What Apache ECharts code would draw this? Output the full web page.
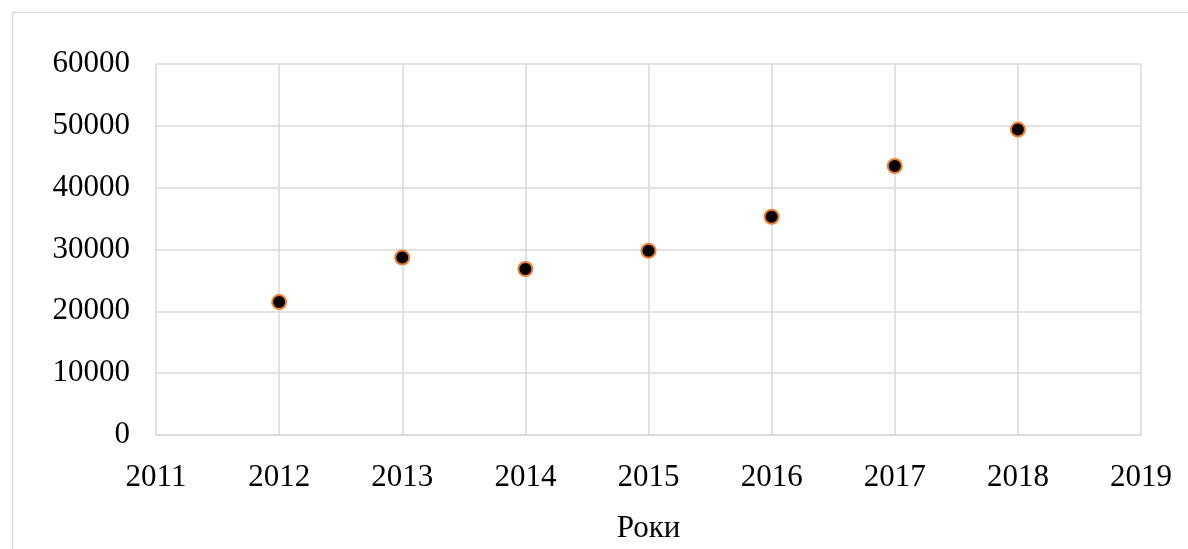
<!DOCTYPE html>
<html>
<head>
<meta charset="utf-8">
<style>
  html, body { margin: 0; padding: 0; background: #ffffff; }
  #chart { width: 1188px; height: 549px; }
</style>
<script src="https://cdn.jsdelivr.net/npm/echarts@6/dist/echarts.min.js"></script>
</head>
<body>
<div id="chart"></div>
<script>
// Years and yearly values
const years = [2012, 2013, 2014, 2015, 2016, 2017, 2018];
const values = [21500, 28700, 26850, 29800, 35300, 43500, 49400];

// Axis ranges
const xMin = 2011, xMax = 2019, xStep = 1;
const yMin = 0, yMax = 60000, yStep = 10000;
const xAxisTitle = 'Роки';

const points = years.map((y, i) => [y, values[i]]);
const font = '"Liberation Serif", "Times New Roman", serif';
const gridColor = '#d9d9d9';
const plain = v => String(v);

const chart = echarts.init(document.getElementById('chart'));
chart.setOption({
  animation: false,
  backgroundColor: '#ffffff',
  graphic: [{
    type: 'rect',
    left: 10, top: 10,
    shape: { width: 1200, height: 560 },
    style: { fill: 'none', stroke: gridColor, lineWidth: 1.5 },
    silent: true
  }],
  grid: { left: 156, right: 47, top: 64, bottom: 108 },
  xAxis: {
    type: 'value',
    min: xMin, max: xMax, interval: xStep,
    name: xAxisTitle,
    nameLocation: 'middle',
    nameGap: 78,
    nameTextStyle: { fontFamily: font, fontSize: 31, color: '#000' },
    axisLine: { show: true, lineStyle: { color: gridColor, width: 1.5 } },
    axisTick: { show: false },
    axisLabel: { fontFamily: font, fontSize: 31, color: '#000', margin: 27, formatter: plain },
    splitLine: { show: true, lineStyle: { color: gridColor, width: 1.5 } }
  },
  yAxis: {
    type: 'value',
    min: yMin, max: yMax, interval: yStep,
    axisLine: { show: false },
    axisTick: { show: false },
    axisLabel: { fontFamily: font, fontSize: 31, color: '#000', margin: 26, formatter: plain },
    splitLine: { show: true, lineStyle: { color: gridColor, width: 1.5 } }
  },
  series: [{
    type: 'scatter',
    data: points,
    symbol: 'circle',
    symbolSize: 14,
    itemStyle: { color: '#000000', borderColor: '#ED7D31', borderWidth: 2, opacity: 1 }
  }]
});
</script>
</body>
</html>
